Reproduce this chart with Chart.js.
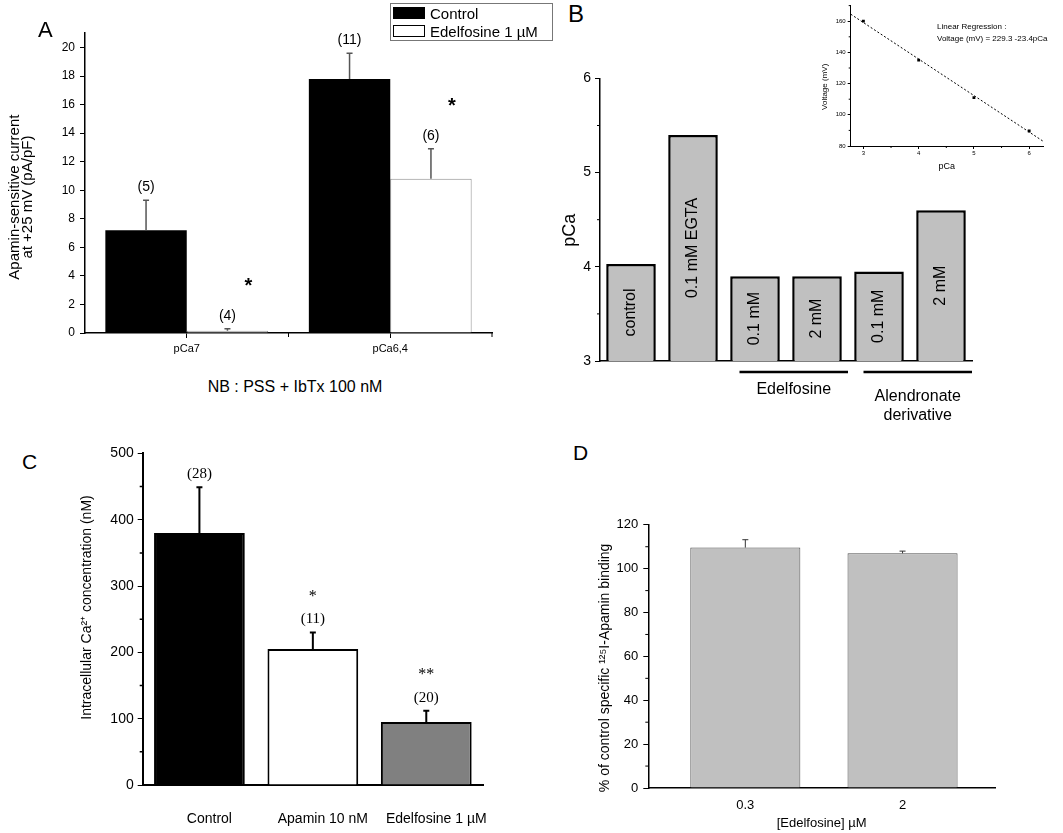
<!DOCTYPE html>
<html>
<head>
<meta charset="utf-8">
<script src="https://cdn.jsdelivr.net/npm/chart.js@4.4.1/dist/chart.umd.min.js"></script>
<style>
  body { margin: 0; background: #fff; width: 1063px; height: 833px; overflow: hidden; position: relative;
         font-family: "Liberation Sans", Arial, sans-serif; color: #000; }
  canvas { position: absolute; }
  .c { position: absolute; white-space: nowrap; line-height: 1; transform: translate(-50%, -50%); }
  .l { position: absolute; white-space: nowrap; line-height: 1; transform: translate(0, -50%); }
  .letter { position: absolute; line-height: 1; }
  #legendA { position: absolute; left: 390px; top: 3px; width: 163px; height: 38px; border: 1px solid #777; box-sizing: border-box; }
  .sw { position: absolute; left: 2px; width: 32px; height: 12px; box-sizing: border-box; border: 1px solid #000; }
  .lt { position: absolute; left: 39px; font-size: 15px; line-height: 1; transform: translate(0, -50%); }
</style>
</head>
<body>
<canvas id="chartA"></canvas>
<canvas id="chartB"></canvas>
<canvas id="chartInset"></canvas>
<canvas id="chartC"></canvas>
<canvas id="chartD"></canvas>

<div class="letter" style="left:38px;top:19px;font-size:22px">A</div>
<div class="letter" style="left:568px;top:2px;font-size:24px">B</div>
<div class="letter" style="left:22px;top:451px;font-size:21px">C</div>
<div class="letter" style="left:573px;top:442px;font-size:21px">D</div>

<div id="legendA"></div>
<div class="c" style="left:295px;top:387px;font-size:16px">NB : PSS + IbTx 100 nM</div>
<div class="l" style="left:937px;top:27px;font-size:8px">Linear Regression :</div>
<div class="l" style="left:937px;top:39px;font-size:8px">Voltage (mV) = 229.3 -23.4pCa</div>

<script>
// panel A : apamin-sensitive current
const groupsA = ['pCa7', 'pCa6,4'];
const seriesA = ['Control', 'Edelfosine 1 µM'];
const controlA = [7.2, 17.8];
const controlErrA = [9.3, 19.6];
const edelA = [0.15, 10.8];
const edelErrA = [0.3, 12.9];
const nControlA = ['(5)', '(11)'];
const nEdelA = ['(4)', '(6)'];
const starsA = ['*', '*'];
const ticksA = [0, 2, 4, 6, 8, 10, 12, 14, 16, 18, 20];

// panel B : pCa estimated from the calibration
const conditionsB = ['control', '0.1 mM EGTA', '0.1 mM', '2 mM', '0.1 mM', '2 mM'];
const pCaB = [4.03, 5.40, 3.90, 3.90, 3.95, 4.60];
const ticksB = [3, 4, 5, 6];
const groupNamesB = [['Edelfosine'], ['Alendronate', 'derivative']];
const groupSpanB = [[2, 3], [4, 5]];

// panel B inset : calibration
const pCaInset = [3, 4, 5, 6];
const voltInset = [160, 135, 111, 89.6];
const fitInset = [{ x: 2.77, y: 164.5 }, { x: 6.25, y: 83.1 }];
const xTicksInset = [3, 4, 5, 6];
const yTicksInset = [80, 100, 120, 140, 160];

// panel C : intracellular Ca2+
const groupsC = ['Control', 'Apamin 10 nM', 'Edelfosine 1 µM'];
const caC = [380, 205, 95];
const caErrC = [449, 230, 112];
const nC = ['(28)', '(11)', '(20)'];
const starsC = ['', '*', '**'];
const ticksC = [0, 100, 200, 300, 400, 500];

// panel D : 125I-apamin binding
const concD = ['0.3', '2'];
const bindingD = [109.6, 107.0];
const bindingErrD = [113.2, 108.0];
const ticksD = [0, 20, 40, 60, 80, 100, 120];

Chart.defaults.font.family = '"Liberation Sans", Arial, sans-serif';
Chart.defaults.color = '#000';
Chart.defaults.animation = false;
Chart.defaults.plugins.legend.display = false;
Chart.defaults.plugins.tooltip.enabled = false;

const SANS = '"Liberation Sans", Arial, sans-serif';
const SERIF = '"Liberation Serif", "Times New Roman", serif';
const midpoints = (arr) => arr.slice(1).map((v, i) => (v + arr[i]) / 2);

// size a canvas so that its chart area lands on the given box
function place(id, area, yw, xh, pad) {
  const c = document.getElementById(id);
  const left = Math.round(area.left - yw - pad.left);
  const top = Math.round(area.top - pad.top);
  const w = Math.round(area.right + pad.right - left);
  const h = Math.round(area.bottom + xh + pad.bottom - top);
  c.style.left = left + 'px';
  c.style.top = top + 'px';
  c.style.width = w + 'px';
  c.style.height = h + 'px';
  c.width = w;
  c.height = h;
  return c;
}

const decorate = (draw) => ({
  id: 'decorate',
  afterDatasetsDraw(chart) {
    const { ctx } = chart;
    ctx.save();
    draw(chart, ctx);
    ctx.restore();
  },
});

function drawErrors(chart, dsIndex, errs, color, width, cap) {
  const { ctx } = chart;
  const y = chart.scales.y;
  ctx.strokeStyle = color;
  ctx.lineWidth = width;
  chart.getDatasetMeta(dsIndex).data.forEach((bar, i) => {
    const top = y.getPixelForValue(errs[i]);
    ctx.beginPath();
    ctx.moveTo(bar.x, bar.y);
    ctx.lineTo(bar.x, top);
    ctx.moveTo(bar.x - cap, top);
    ctx.lineTo(bar.x + cap, top);
    ctx.stroke();
  });
}

function drawMinorY(chart, values, len, width) {
  const { ctx } = chart;
  const s = chart.scales.y;
  ctx.strokeStyle = '#000';
  ctx.lineWidth = width;
  ctx.beginPath();
  values.forEach((v) => {
    const p = s.getPixelForValue(v);
    ctx.moveTo(s.right, p);
    ctx.lineTo(s.right - len, p);
  });
  ctx.stroke();
}

function text(ctx, str, x, y, font) {
  ctx.font = font;
  ctx.fillStyle = '#000';
  ctx.textAlign = 'center';
  ctx.textBaseline = 'middle';
  ctx.fillText(str, x, y);
}

// rotated axis title, placed relative to the chart area (dx left of it, dy below its middle)
function yTitle(chart, lines, dx, dy, font, gap) {
  const { ctx, chartArea } = chart;
  const cy = (chartArea.top + chartArea.bottom) / 2 + dy;
  lines.forEach((ln, k) => {
    ctx.save();
    ctx.translate(chartArea.left - dx + k * gap, cy);
    ctx.rotate(-Math.PI / 2);
    text(ctx, ln, 0, 0, font);
    ctx.restore();
  });
}

const tickGrid = (len) => ({ display: true, drawOnChartArea: false, drawTicks: true, tickLength: len, color: '#000', offset: false });
const noGrid = { display: false, drawTicks: false };

// legend of panel A
document.getElementById('legendA').innerHTML = seriesA.map((name, i) => `
  <div class="sw" style="top:${3 + i * 18}px;background:${i === 0 ? '#000' : '#fff'}"></div>
  <div class="lt" style="top:${9 + i * 18}px">${name}</div>`).join('');

// ---------- A ----------
new Chart(place('chartA', { left: 85, top: 33, right: 491.7, bottom: 332.7 }, 80, 30, { left: 5, top: 12, right: 12, bottom: 0 }), {
  type: 'bar',
  data: {
    labels: groupsA,
    datasets: [
      { label: seriesA[0], data: controlA, backgroundColor: '#000', borderWidth: 0 },
      { label: seriesA[1], data: edelA, backgroundColor: '#fff', borderColor: '#8c8c8c', borderWidth: 1 },
    ],
  },
  options: {
    responsive: false,
    layout: { padding: { left: 5, top: 12, right: 12, bottom: 0 } },
    datasets: { bar: { categoryPercentage: 0.8, barPercentage: 1 } },
    scales: {
      x: {
        grid: tickGrid(5),
        border: { color: '#000', width: 1.5 },
        ticks: { font: { size: 11 }, padding: 4 },
        afterFit: (s) => { s.height = 30; },
      },
      y: {
        min: 0,
        max: 21,
        afterBuildTicks: (s) => { s.ticks = ticksA.map((v) => ({ value: v })); },
        grid: tickGrid(5),
        border: { color: '#000', width: 1.5 },
        ticks: { font: { size: 12 }, padding: 5 },
        afterFit: (s) => { s.width = 80; },
      },
    },
  },
  plugins: [decorate((chart, ctx) => {
    yTitle(chart, ['Apamin-sensitive current', 'at +25 mV (pA/pF)'], 70, 14, '15px ' + SANS, 13);
    drawErrors(chart, 0, controlErrA, '#555', 1.5, 3);
    drawErrors(chart, 1, edelErrA, '#555', 1.5, 3);
    const y = chart.scales.y;
    const x = chart.scales.x;
    chart.getDatasetMeta(0).data.forEach((bar, i) => {
      text(ctx, nControlA[i], bar.x, y.getPixelForValue(controlErrA[i]) - 13, '14px ' + SANS);
    });
    chart.getDatasetMeta(1).data.forEach((bar, i) => {
      const top = y.getPixelForValue(edelErrA[i]);
      text(ctx, nEdelA[i], bar.x, top - 13, '14px ' + SANS);
      text(ctx, starsA[i], bar.x + 21, top - 42, 'bold 20px ' + SANS);
    });
    // small ticks at the group boundary and the axis end
    const w = x.getPixelForValue(1) - x.getPixelForValue(0);
    ctx.strokeStyle = '#000';
    ctx.lineWidth = 1;
    ctx.beginPath();
    [x.getPixelForValue(0) + w / 2, x.right].forEach((px) => {
      ctx.moveTo(px, x.top);
      ctx.lineTo(px, x.top + 4);
    });
    ctx.stroke();
  })],
});

// ---------- B ----------
new Chart(place('chartB', { left: 600, top: 78.3, right: 971.7, bottom: 361 }, 45, 70, { left: 0, top: 12, right: 12, bottom: 0 }), {
  type: 'bar',
  data: {
    labels: conditionsB,
    datasets: [{ data: pCaB, backgroundColor: '#c0c0c0', borderColor: '#000', borderWidth: 2.5 }],
  },
  options: {
    responsive: false,
    layout: { padding: { left: 0, top: 12, right: 12, bottom: 0 } },
    datasets: { bar: { categoryPercentage: 0.8, barPercentage: 1 } },
    scales: {
      x: {
        grid: noGrid,
        border: { color: '#000', width: 1.5 },
        ticks: { display: false },
        afterFit: (s) => { s.height = 70; },
      },
      y: {
        min: 3,
        max: 6,
        afterBuildTicks: (s) => { s.ticks = ticksB.map((v) => ({ value: v })); },
        grid: tickGrid(5),
        border: { color: '#000', width: 1.5 },
        ticks: { font: { size: 14 }, padding: 4 },
        afterFit: (s) => { s.width = 45; },
      },
    },
  },
  plugins: [decorate((chart, ctx) => {
    yTitle(chart, ['pCa'], 30, 10.5, '18px ' + SANS, 0);
    drawMinorY(chart, midpoints(ticksB), 3, 1);
    // condition names written inside the bars (bars start at 0, so clip the base to the axis)
    const bottom = chart.chartArea.bottom;
    chart.getDatasetMeta(0).data.forEach((bar, i) => {
      ctx.save();
      ctx.translate(bar.x, (bar.y + Math.min(bar.base, bottom)) / 2);
      ctx.rotate(-Math.PI / 2);
      text(ctx, conditionsB[i], 0, 0, '16px ' + SANS);
      ctx.restore();
    });
    // brackets for the drug groups
    const x = chart.scales.x;
    const w = x.getPixelForValue(1) - x.getPixelForValue(0);
    groupSpanB.forEach(([from, to], g) => {
      const left = x.getPixelForValue(from) - 0.25 * w;
      const right = x.getPixelForValue(to) + 0.5 * w;
      ctx.strokeStyle = '#000';
      ctx.lineWidth = 2.5;
      ctx.beginPath();
      ctx.moveTo(left, x.top + 11);
      ctx.lineTo(right, x.top + 11);
      ctx.stroke();
      const lines = groupNamesB[g];
      const start = lines.length > 1 ? 36 : 29;
      lines.forEach((ln, k) => text(ctx, ln, (left + right) / 2, x.top + start + k * 19, '16px ' + SANS));
    });
  })],
});

// ---------- B inset ----------
new Chart(place('chartInset', { left: 850.7, top: 5, right: 1043.3, bottom: 146 }, 30.7, 30, { left: 0, top: 5, right: 12, bottom: 0 }), {
  type: 'scatter',
  data: {
    datasets: [
      {
        data: pCaInset.map((v, i) => ({ x: v, y: voltInset[i] })),
        pointStyle: 'rect', pointRadius: 2, backgroundColor: '#000', borderWidth: 0,
      },
      {
        type: 'line', data: fitInset, borderColor: '#000', borderWidth: 1, borderDash: [2, 2],
        pointRadius: 0, showLine: true, fill: false,
      },
    ],
  },
  options: {
    responsive: false,
    layout: { padding: { left: 0, top: 5, right: 12, bottom: 0 } },
    scales: {
      x: {
        type: 'linear',
        min: 2.77,
        max: 6.25,
        afterBuildTicks: (s) => { s.ticks = xTicksInset.map((v) => ({ value: v })); },
        grid: tickGrid(3),
        border: { color: '#000', width: 1 },
        ticks: { font: { size: 6 }, padding: 1 },
        title: { display: true, text: 'pCa', font: { size: 9 } },
        afterFit: (s) => { s.height = 30; },
      },
      y: {
        min: 80,
        max: 170,
        afterBuildTicks: (s) => { s.ticks = yTicksInset.map((v) => ({ value: v })); },
        grid: tickGrid(3),
        border: { color: '#000', width: 1 },
        ticks: { font: { size: 6 }, padding: 2 },
        afterFit: (s) => { s.width = 30.7; },
      },
    },
  },
  plugins: [decorate((chart, ctx) => {
    yTitle(chart, ['Voltage (mV)'], 25.7, 11, '8px ' + SANS, 0);
    drawMinorY(chart, midpoints(yTicksInset).concat([170]), 2, 1);
    const x = chart.scales.x;
    ctx.beginPath();
    midpoints(xTicksInset).forEach((v) => {
      const p = x.getPixelForValue(v);
      ctx.moveTo(p, x.top);
      ctx.lineTo(p, x.top + 2);
    });
    ctx.stroke();
  })],
});

// ---------- C ----------
new Chart(place('chartC', { left: 142.7, top: 453.3, right: 483.3, bottom: 785 }, 67.7, 45, { left: 0, top: 12, right: 40, bottom: 0 }), {
  type: 'bar',
  data: {
    labels: groupsC,
    datasets: [{
      data: caC,
      backgroundColor: ['#000', '#fff', '#808080'],
      borderColor: '#000',
      borderWidth: 2,
    }],
  },
  options: {
    responsive: false,
    layout: { padding: { left: 0, top: 12, right: 40, bottom: 0 } },
    datasets: { bar: { categoryPercentage: 0.8, barPercentage: 1 } },
    scales: {
      x: {
        grid: noGrid,
        border: { color: '#000', width: 2 },
        ticks: { font: { size: 14 }, padding: 26, labelOffset: 10 },
        afterFit: (s) => { s.height = 45; },
      },
      y: {
        min: 0,
        max: 500,
        afterBuildTicks: (s) => { s.ticks = ticksC.map((v) => ({ value: v })); },
        grid: tickGrid(5),
        border: { color: '#000', width: 2 },
        ticks: { font: { size: 14 }, padding: 4 },
        afterFit: (s) => { s.width = 67.7; },
      },
    },
  },
  plugins: [decorate((chart, ctx) => {
    yTitle(chart, ['Intracellular Ca²⁺ concentration (nM)'], 55.7, -11.7, '14px ' + SANS, 0);
    drawMinorY(chart, midpoints(ticksC), 3, 1.5);
    drawErrors(chart, 0, caErrC, '#000', 2, 3);
    const y = chart.scales.y;
    chart.getDatasetMeta(0).data.forEach((bar, i) => {
      const ny = y.getPixelForValue(caErrC[i]) - 13;
      text(ctx, nC[i], bar.x, ny, '15px ' + SERIF);
      if (starsC[i]) text(ctx, starsC[i], bar.x, ny - 23, '16px ' + SERIF);
    });
  })],
});

// ---------- D ----------
new Chart(place('chartD', { left: 648.3, top: 524.3, right: 995, bottom: 787.7 }, 55.3, 43, { left: 0, top: 12, right: 12, bottom: 0 }), {
  type: 'bar',
  data: {
    datasets: [{
      data: concD.map((c, i) => ({ x: i, y: bindingD[i] })),
      backgroundColor: '#c0c0c0',
      borderColor: '#505050',
      borderWidth: 1,
    }],
  },
  options: {
    responsive: false,
    layout: { padding: { left: 0, top: 12, right: 12, bottom: 0 } },
    datasets: { bar: { categoryPercentage: 0.7, barPercentage: 1 } },
    scales: {
      x: {
        type: 'linear',
        offset: false,
        min: -0.617,
        max: 1.588,
        afterBuildTicks: (s) => { s.ticks = concD.map((c, i) => ({ value: i })); },
        grid: noGrid,
        border: { color: '#000', width: 1.5 },
        ticks: { font: { size: 13 }, padding: 10, callback: (v) => concD[v] },
        title: { display: true, text: '[Edelfosine] µM', font: { size: 13 }, padding: 0 },
        afterFit: (s) => { s.height = 43; },
      },
      y: {
        min: 0,
        max: 120,
        afterBuildTicks: (s) => { s.ticks = ticksD.map((v) => ({ value: v })); },
        grid: tickGrid(5),
        border: { color: '#000', width: 1.5 },
        ticks: { font: { size: 13 }, padding: 5 },
        afterFit: (s) => { s.width = 55.3; },
      },
    },
  },
  plugins: [decorate((chart) => {
    yTitle(chart, ['% of control specific ¹²⁵I-Apamin binding'], 43.3, 11.5, '14px ' + SANS, 0);
    drawMinorY(chart, midpoints(ticksD), 3, 1);
    drawErrors(chart, 0, bindingErrD, '#333', 1, 3);
  })],
});
</script>
</body>
</html>
